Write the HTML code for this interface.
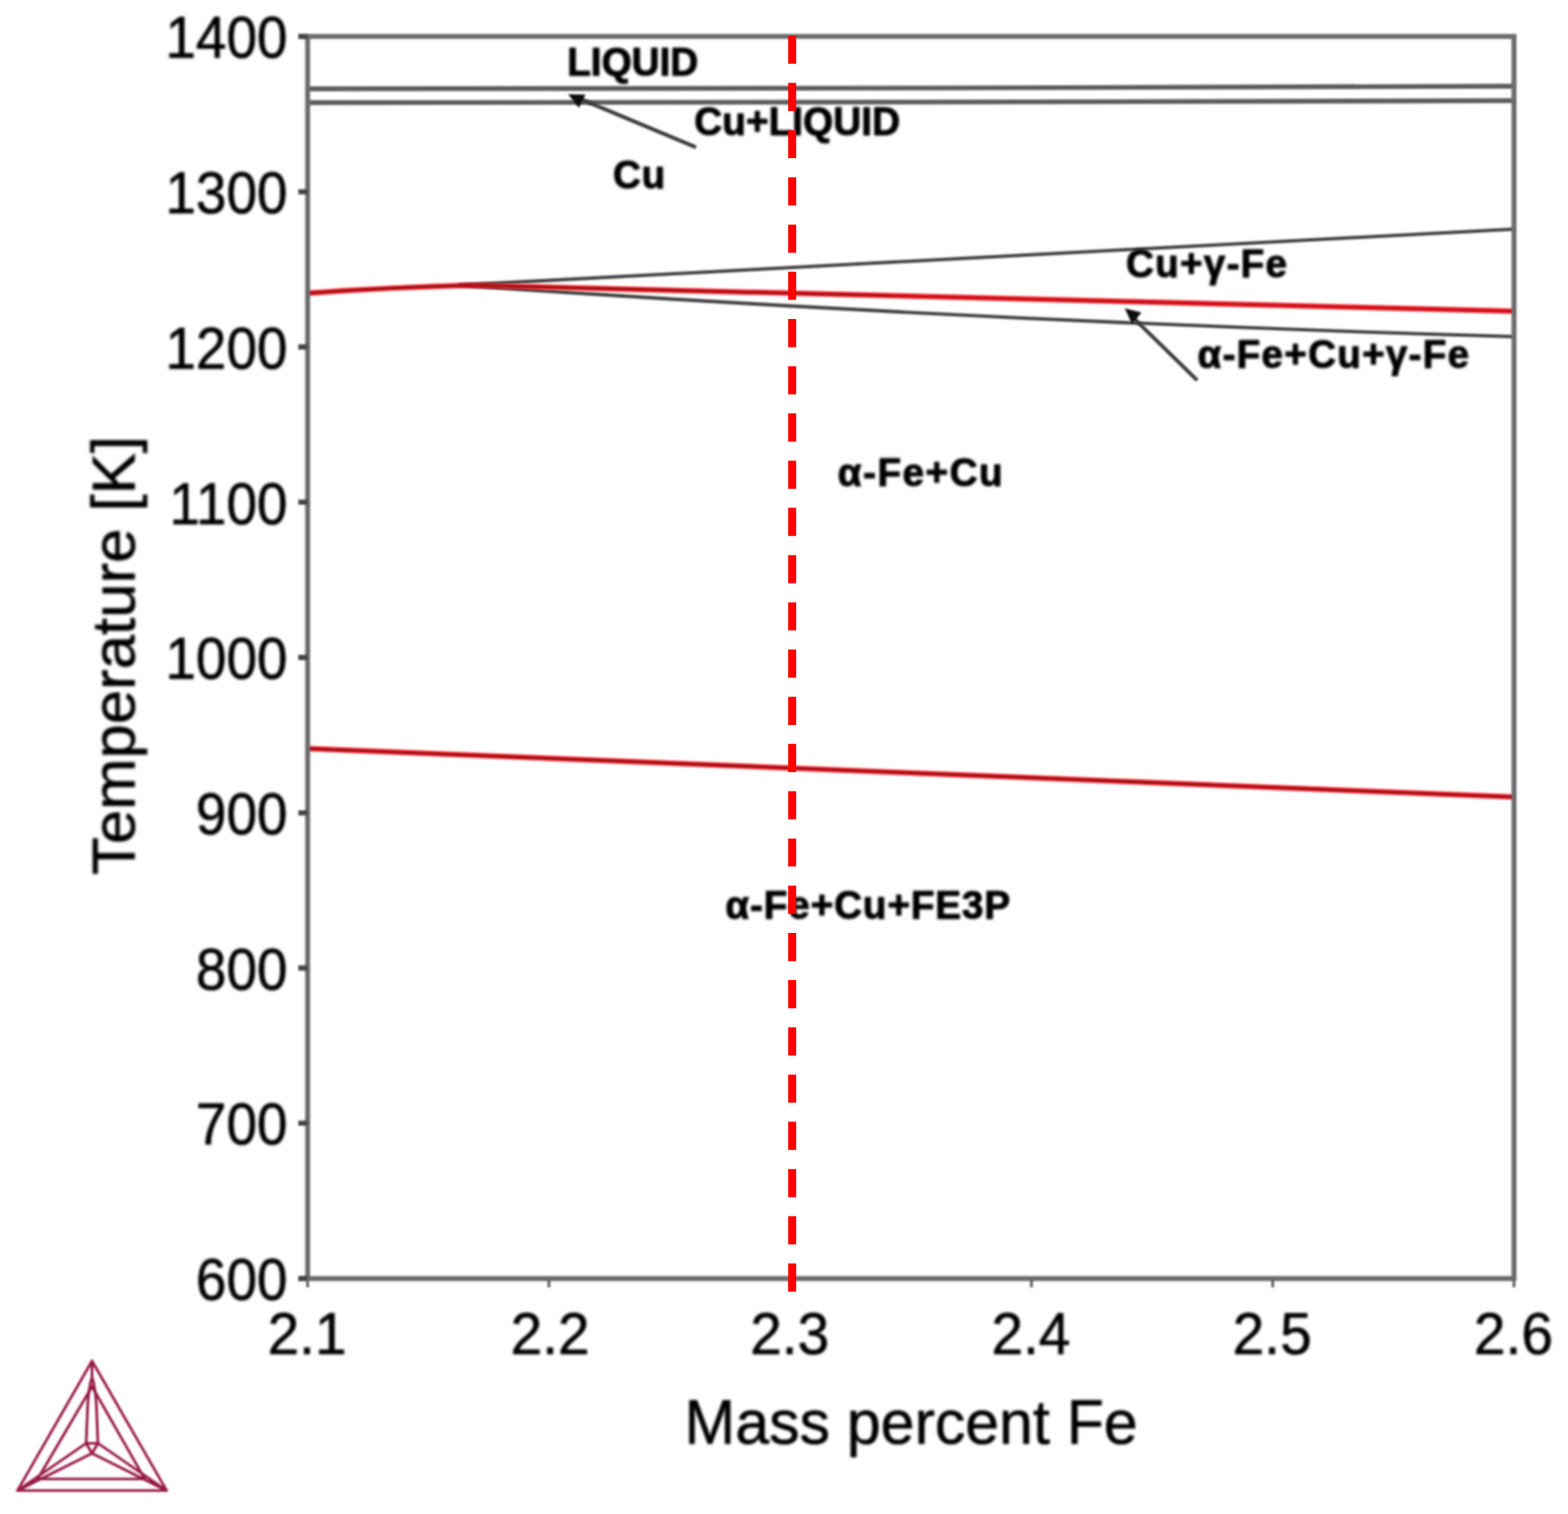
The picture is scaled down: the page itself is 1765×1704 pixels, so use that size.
<!DOCTYPE html>
<html lang="en">
<head>
<meta charset="utf-8">
<title>Phase diagram: Temperature [K] vs Mass percent Fe</title>
<style>
html,body{margin:0;padding:0;background:#fff;}
body{width:1765px;height:1704px;overflow:hidden;}
svg{display:block;}
text{font-family:"Liberation Sans",sans-serif;fill:#000;}
.tick{font-size:65.0px;}
.axis{font-size:68.5px;}
.lab{font-size:43.5px;font-weight:bold;}
</style>
</head>
<body>
<svg width="1765" height="1704" viewBox="0 0 1765 1704">
<defs>
<filter id="b1" filterUnits="userSpaceOnUse" x="0" y="0" width="1765" height="1704"><feGaussianBlur stdDeviation="1"/></filter>
<filter id="b2" filterUnits="userSpaceOnUse" x="0" y="0" width="1765" height="1704"><feGaussianBlur stdDeviation="1.5"/></filter>
</defs>
<rect x="0" y="0" width="1765" height="1704" fill="#fff"/>

<!-- phase boundaries -->
<g id="curves" fill="none">
<g filter="url(#b1)">
<path d="M346.3 100L1040 99.1L1704.2 97.0" stroke="#5c5c5c" stroke-width="5.4"/>
<path d="M346.3 115.5L1040 114.9L1704.2 113.3" stroke="#5c5c5c" stroke-width="5.4"/>
<path d="M516 321Q1110 288.4 1704.2 257.8" stroke="#404040" stroke-width="3.8"/>
<path d="M516 321Q1110 362 1704.2 378.8" stroke="#404040" stroke-width="3.8"/>
</g>
<g filter="url(#b1)">
<path d="M346.3 329.9Q440 323.3 530 321L1704.2 350.3" stroke="#f21c26" stroke-width="6.0"/>
<path d="M346.3 329.9Q440 323.3 530 321L1000 332.7" stroke="#200" stroke-width="1.8" opacity="0.7"/>
<path d="M1000 332.7L1704.2 350.3" stroke="#200" stroke-width="1.6" opacity="0.4"/>
<path d="M346.3 842.6L1704.2 897.1" stroke="#f21c26" stroke-width="6.0"/>
<path d="M346.3 842.6L1704.2 897.1" stroke="#200" stroke-width="1.8" opacity="0.75"/>
</g>
</g>
<!-- plot frame and tick marks -->
<g id="frame" filter="url(#b1)" stroke="#6c6c6c" fill="none">
<rect x="346.3" y="41.0" width="1357.9" height="1398.0" stroke-width="5.6"/>
<path d="M335.8 41.0H346.3M335.8 215.8H346.3M335.8 390.5H346.3M335.8 565.2H346.3M335.8 740.0H346.3M335.8 914.8H346.3M335.8 1089.5H346.3M335.8 1264.2H346.3M335.8 1439.0H346.3" stroke="#444" stroke-width="5.8"/>
<path d="M346.3 1439.0V1449.0M617.9 1439.0V1449.0M889.5 1439.0V1449.0M1161.0 1439.0V1449.0M1432.6 1439.0V1449.0M1704.2 1439.0V1449.0" stroke="#626262" stroke-width="3.2"/>
</g>
<!-- pointer arrows -->
<g id="arrows" filter="url(#b1)" stroke="#3c3c3c" stroke-width="4.2" fill="#0a0a0a">
<line x1="783.4" y1="165.8" x2="653" y2="111.2"/>
<path d="M639.5 106L659 106.6L651.6 121.2Z" stroke="none"/>
<line x1="1347.6" y1="428" x2="1277" y2="359"/>
<path d="M1266 347L1284.8 351.8L1274.4 364.8Z" stroke="none"/>
</g>
<!-- tick labels -->
<g class="tick" filter="url(#b2)" stroke="#000" stroke-width="0.7">
<text transform="translate(323.6 65.2) scale(0.950 1.03)" text-anchor="end">1400</text>
<text transform="translate(323.6 239.9) scale(0.950 1.03)" text-anchor="end">1300</text>
<text transform="translate(323.6 414.7) scale(0.950 1.03)" text-anchor="end">1200</text>
<text transform="translate(323.6 589.5) scale(0.950 1.03)" text-anchor="end">1100</text>
<text transform="translate(323.6 764.2) scale(0.950 1.03)" text-anchor="end">1000</text>
<text transform="translate(323.6 939.0) scale(0.950 1.03)" text-anchor="end">900</text>
<text transform="translate(323.6 1113.7) scale(0.950 1.03)" text-anchor="end">800</text>
<text transform="translate(323.6 1288.5) scale(0.950 1.03)" text-anchor="end">700</text>
<text transform="translate(323.6 1463.2) scale(0.950 1.03)" text-anchor="end">600</text>
<text transform="translate(345.7 1523.6) scale(0.985 1.02)" text-anchor="middle">2.1</text>
<text transform="translate(619.2 1523.6) scale(0.985 1.02)" text-anchor="middle">2.2</text>
<text transform="translate(888.9 1523.6) scale(0.985 1.02)" text-anchor="middle">2.3</text>
<text transform="translate(1160.4 1523.6) scale(0.985 1.02)" text-anchor="middle">2.4</text>
<text transform="translate(1432.0 1523.6) scale(0.985 1.02)" text-anchor="middle">2.5</text>
<text transform="translate(1703.6 1523.6) scale(0.985 1.02)" text-anchor="middle">2.6</text>
</g>
<!-- axis titles -->
<g class="axis" filter="url(#b2)" stroke="#000" stroke-width="0.7">
<text transform="translate(1025.6 1624.6) scale(1 1.02)" text-anchor="middle">Mass percent Fe</text>
<text transform="translate(151.2 737.8) rotate(-90) scale(1.014 1.01)" text-anchor="middle">Temperature [K]</text>
</g>
<!-- phase region labels -->
<g class="lab" filter="url(#b2)" stroke="#000" stroke-width="1.1" stroke-linejoin="round">
<text x="638.5" y="85.3" letter-spacing="0.0">LIQUID</text>
<text x="781.5" y="152.0" letter-spacing="0.1">Cu+LIQUID</text>
<text x="690.0" y="212.0" letter-spacing="0.8">Cu</text>
<text x="1267.5" y="311.6" letter-spacing="1.4">Cu+γ-Fe</text>
<text x="1348.0" y="413.8" letter-spacing="1.4">α-Fe+Cu+γ-Fe</text>
<text x="943.0" y="547.2" letter-spacing="1.7">α-Fe+Cu</text>
<text x="816.5" y="1033.6" letter-spacing="1.0">α-Fe+Cu+FE3P</text>
</g>
<!-- alloy composition marker -->
<line x1="891.7" y1="40.1" x2="891.7" y2="1453.7" stroke="#ff0000" stroke-width="9.0" stroke-dasharray="31.7 21.45"/>
<!-- software logo -->
<g id="logo" filter="url(#b1)" stroke="#931341" stroke-width="2.9" fill="none" stroke-linejoin="round" stroke-linecap="round">
<path d="M103.6 1531.8L19.7 1677.6L187.6 1677.6Z"/>
<path d="M103.6 1560.5L42.5 1664.6L163 1664.6Z"/>
<path d="M97 1624.4L110.2 1624.4L103.6 1635.8Z"/>
<path d="M103.6 1531.8V1550M97 1624.4L98.6 1584Q99.6 1562 103.6 1550Q107.6 1562 108.6 1584L110.2 1624.4"/>
<path d="M19.7 1677.6L97 1624.4M19.7 1677.6L103.6 1635.8M187.6 1677.6L110.2 1624.4M187.6 1677.6L103.6 1635.8"/>
</g>
</svg>
</body>
</html>
